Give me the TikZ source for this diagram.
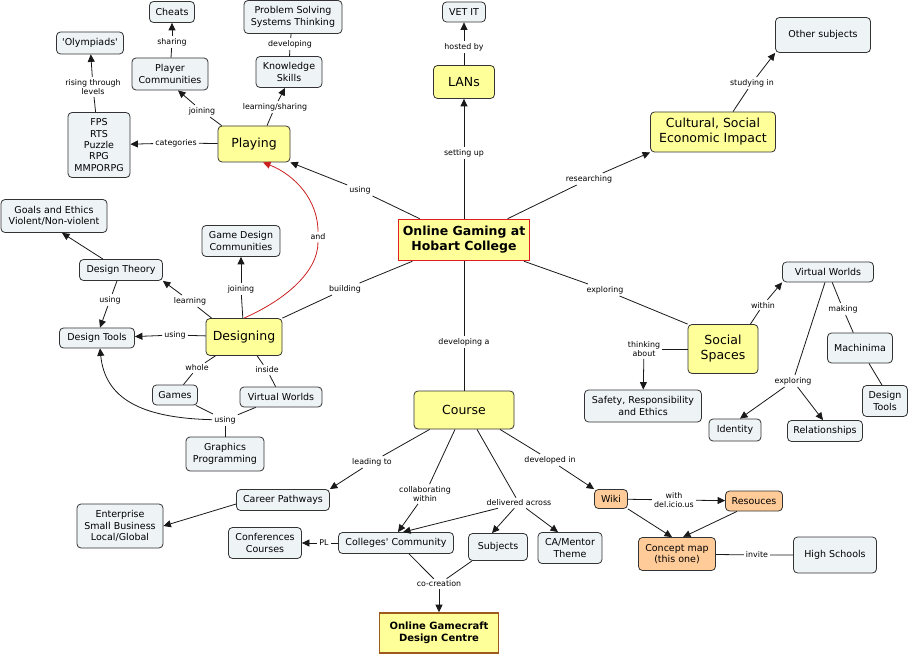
\documentclass[tikz,border=0pt]{standalone}
\usepackage{fontspec}
\setmainfont{DejaVu Sans}
\usetikzlibrary{arrows.meta}
\definecolor{ylw}{HTML}{FFFF99}
\definecolor{gry}{HTML}{EEF3F6}
\definecolor{org}{HTML}{FFCC99}
\definecolor{bord}{HTML}{333333}
\definecolor{redb}{HTML}{E02020}
\definecolor{brnb}{HTML}{9C5A1E}
\definecolor{redl}{HTML}{CC2020}
\tikzset{
 box/.style={draw=bord, line width=0.8pt, rounded corners=4pt, align=center, inner sep=1pt, font=\fontsize{9.5}{11.3}\selectfont},
 gbox/.style={box, fill=gry},
 obox/.style={box, fill=org},
 ybox/.style={box, fill=ylw, font=\fontsize{12.5}{15}\selectfont},
 lab/.style={inner sep=2pt, align=center, font=\fontsize{7.9}{9.3}\selectfont},
 conn/.style={draw=black!90, line width=0.8pt},
 arr/.style={conn, -{Triangle[length=7.5pt,width=7pt]}},
 sz/.style 2 args={minimum width=#1pt, minimum height=#2pt},
}
\begin{document}
\begin{tikzpicture}[x=1pt,y=-1pt]
\fill[white] (0,0) rectangle (911,655);
\useasboundingbox (0,0) rectangle (911,655);
% ---- nodes
\node[ybox, rounded corners=0pt, draw=redb, line width=1.6pt, font=\fontsize{12.5}{15}\selectfont\bfseries, sz={131}{41}] (main) at (464,240) {Online Gaming at\\Hobart College};
\node[ybox, sz={61}{33}] (lans) at (464,82) {LANs};
\node[gbox, sz={43}{20}] (vetit) at (464,12) {VET IT};
\node[ybox, sz={125}{40}] (cultural) at (713,132) {Cultural, Social\\Economic Impact};
\node[gbox, sz={95}{35}] (other) at (823,35) {Other subjects};
\node[ybox, sz={72}{36}] (playing) at (254,144) {Playing};
\node[gbox, sz={62}{65}] (fps) at (99,145) {FPS\\RTS\\Puzzle\\RPG\\MMPORPG};
\node[gbox, sz={67}{22}] (olymp) at (90,43) {\textquotesingle Olympiads\textquotesingle};
\node[gbox, sz={76}{32}] (pc) at (170,74) {Player\\Communities};
\node[gbox, sz={45}{21}] (cheats) at (172,12) {Cheats};
\node[gbox, sz={66}{31}] (ks) at (289,72) {Knowledge\\Skills};
\node[gbox, sz={98}{33}] (ps) at (293,17) {Problem Solving\\Systems Thinking};
\node[gbox, sz={106}{33}] (goals) at (54,216) {Goals and Ethics\\Violent/Non-violent};
\node[gbox, sz={83}{21}] (dtheory) at (121,270) {Design Theory};
\node[gbox, sz={75}{20}] (dtools) at (97,338) {Design Tools};
\node[gbox, sz={78}{31}] (gdc) at (241,241) {Game Design\\Communities};
\node[ybox, sz={76}{37}] (designing) at (244,337) {Designing};
\node[gbox, sz={45}{20}] (games) at (175,395) {Games};
\node[gbox, sz={82}{20}] (vwl) at (281,397) {Virtual Worlds};
\node[gbox, sz={78}{34}] (graphics) at (225,454) {Graphics\\Programming};
\node[gbox, sz={91}{20}] (vwr) at (828,272) {Virtual Worlds};
\node[ybox, sz={70}{49}] (social) at (723,349) {Social\\Spaces};
\node[gbox, sz={65}{30}] (machinima) at (860,348) {Machinima};
\node[gbox, sz={45}{31}] (dtoolsr) at (885,401) {Design\\Tools};
\node[gbox, sz={117}{32}] (safety) at (643,406) {Safety, Responsibility\\and Ethics};
\node[gbox, sz={52}{22}] (identity) at (735,430) {Identity};
\node[gbox, sz={75}{21}] (relations) at (825,431) {Relationships};
\node[ybox, sz={100}{38}] (course) at (464,410) {Course};
\node[gbox, sz={93}{21}] (career) at (283,500) {Career Pathways};
\node[gbox, sz={86}{44}] (enterprise) at (120,526) {Enterprise\\Small Business\\Local/Global};
\node[gbox, sz={73}{31}] (conf) at (265,543) {Conferences\\Courses};
\node[gbox, sz={115}{21}] (colleges) at (396,543) {Colleges\textquotesingle\ Community};
\node[gbox, sz={59}{27}] (subjects) at (498,547) {Subjects};
\node[gbox, sz={64}{31}] (camentor) at (570,548) {CA/Mentor\\Theme};
\node[gbox, sz={83}{36}] (high) at (835,555) {High Schools};
\node[obox, sz={33}{19}] (wiki) at (611,499) {Wiki};
\node[obox, sz={57}{20}] (resouces) at (754,501) {Resouces};
\node[obox, sz={77}{33}] (cmap) at (677,554) {Concept map\\(this one)};
\node[ybox, rounded corners=0pt, draw=brnb, line width=1.6pt, font=\fontsize{10}{12.5}\selectfont\bfseries, sz={119}{40}] (gamecraft) at (439,633) {Online Gamecraft\\Design Centre};
% ---- labels
\node[lab] (l_setting) at (464,153) {setting up};
\node[lab] (l_hosted) at (464,47) {hosted by};
\node[lab] (l_research) at (589,179) {researching};
\node[lab] (l_studying) at (752,83) {studying in};
\node[lab] (l_using1) at (360,190) {using};
\node[lab] (l_and) at (318,237) {and};
\node[lab] (l_building) at (345,289) {building};
\node[lab] (l_exploring1) at (605,290) {exploring};
\node[lab] (l_developing) at (464,342) {developing a};
\node[lab] (l_categories) at (176,143) {categories};
\node[lab] (l_joining1) at (202,111) {joining};
\node[lab] (l_learnshare) at (275,107) {learning/sharing};
\node[lab] (l_developing2) at (290,44) {developing};
\node[lab] (l_sharing) at (172,42) {sharing};
\node[lab] (l_rising) at (93,87) {rising through\\levels};
\node[lab] (l_learning) at (190,301) {learning};
\node[lab] (l_joining2) at (241,289) {joining};
\node[lab] (l_using2) at (175,335) {using};
\node[lab] (l_using3) at (110,300) {using};
\node[lab] (l_whole) at (197,368) {whole};
\node[lab] (l_inside) at (267,370) {inside};
\node[lab] (l_using4) at (225,420) {using};
\node[lab] (l_within) at (763,305) {within};
\node[lab] (l_thinking) at (644,349) {thinking\\about};
\node[lab] (l_making) at (843,309) {making};
\node[lab] (l_exploring2) at (793,381) {exploring};
\node[lab] (l_leading) at (372,462) {leading to};
\node[lab] (l_collab) at (425,494) {collaborating\\within};
\node[lab] (l_delivered) at (519,503) {delivered across};
\node[lab] (l_devin) at (550,460) {developed in};
\node[lab] (l_with) at (674,500) {with\\del.icio.us};
\node[lab] (l_invite) at (757,555) {invite};
\node[lab] (l_pl) at (324,543) {PL};
\node[lab] (l_cocreation) at (439,584) {co-creation};
% ---- connectors: main
\draw[conn] (main) -- (l_setting); \draw[arr] (l_setting) -- (lans);
\draw[conn] (lans) -- (l_hosted); \draw[arr] (l_hosted) -- (vetit);
\draw[conn] (main) -- (l_research); \draw[arr] (l_research) -- (cultural.south west);
\draw[conn] ([xshift=20pt]cultural.north) -- (l_studying); \draw[arr] (l_studying) -- (other.south west);
\draw[conn] (main) -- (l_using1); \draw[arr] (l_using1) -- (playing.south east);
\draw[conn] (main) -- (l_building); \draw[conn] (l_building) -- (designing.north east);
\draw[conn] (main) -- (l_exploring1); \draw[conn] (l_exploring1) -- (social.north west);
\draw[conn] (main) -- (l_developing); \draw[conn] (l_developing) -- (course);
% playing
\draw[conn] (playing) -- (l_categories); \draw[arr] (l_categories) -- (fps);
\draw[conn] ([xshift=4pt]playing.north west) -- (l_joining1); \draw[arr] (l_joining1) -- ([xshift=8pt]pc.south);
\draw[conn] ([xshift=13pt]playing.north) -- (l_learnshare); \draw[arr] (l_learnshare) -- ([xshift=-4pt]ks.south);
\draw[conn] (ks) -- (l_developing2); \draw[conn] (l_developing2) -- (ps);
\draw[conn] (pc) -- (l_sharing); \draw[arr] (l_sharing) -- (cheats);
\draw[conn] (fps) -- (l_rising); \draw[arr] (l_rising) -- (olymp);
% red curve
\draw[conn, draw=redl] (designing.north) .. controls (285,300) and (318,272) .. (l_and);
\draw[arr, draw=redl] (l_and) .. controls (318,200) and (295,175) .. ([xshift=9pt]playing.south);
% designing
\draw[conn] (designing) -- (l_joining2); \draw[arr] (l_joining2) -- (gdc);
\draw[conn] ([xshift=6pt]designing.north west) -- (l_learning); \draw[arr] (l_learning) -- (dtheory.south east);
\draw[conn] (designing) -- (l_using2); \draw[arr] (l_using2) -- (dtools);
\draw[arr] ([xshift=-18pt]dtheory.north) -- ([xshift=8pt]goals.south);
\draw[conn] ([xshift=-4pt]dtheory.south) -- (l_using3); \draw[arr] (l_using3) -- ([xshift=3pt]dtools.north);
\draw[conn] (designing) -- (l_whole); \draw[conn] (l_whole) -- (games);
\draw[conn] (designing) -- (l_inside); \draw[conn] (l_inside) -- (vwl);
\draw[conn] (games) -- (l_using4);
\draw[conn] (vwl) -- (l_using4);
\draw[conn] (l_using4) -- (graphics);
\draw[arr] (l_using4) .. controls (140,418) and (105,398) .. ([xshift=3pt]dtools.south);
% social
\draw[conn] ([xshift=-8pt]social.north east) -- (l_within); \draw[arr] (l_within) -- (vwr.south west);
\draw[conn] (social) -- (l_thinking); \draw[arr] (l_thinking) -- (safety);
\draw[conn] (vwr) -- (l_making); \draw[conn] (l_making) -- (machinima);
\draw[conn] ([xshift=9pt]machinima.south) -- ([xshift=-3pt]dtoolsr.north);
\draw[conn] ([xshift=-3pt]vwr.south) -- (l_exploring2);
\draw[arr] (l_exploring2) -- ([xshift=5pt]identity.north);
\draw[arr] (l_exploring2) -- ([xshift=-2pt]relations.north);
% course
\draw[conn] (course) -- (l_leading); \draw[arr] (l_leading) -- (career.north east);
\draw[conn] ([xshift=-9pt]course.south) -- (l_collab); \draw[arr] (l_collab) -- ([xshift=2pt]colleges.north);
\draw[conn] ([xshift=13pt]course.south) -- (l_delivered);
\draw[arr] (l_delivered) -- ([xshift=7pt]colleges.north);
\draw[arr] (l_delivered) -- ([xshift=-6pt]subjects.north);
\draw[arr] (l_delivered) -- ([xshift=-12pt]camentor.north);
\draw[conn] ([xshift=36pt]course.south) -- (l_devin); \draw[arr] (l_devin) -- (wiki.north west);
\draw[arr] ([yshift=-4pt]career.west) -- (enterprise.east);
\draw[conn] (colleges) -- (l_pl); \draw[arr] (l_pl) -- (conf);
\draw[conn] ([xshift=13pt]colleges.south) -- (l_cocreation);
\draw[conn] ([xshift=-26pt]subjects.south) -- (l_cocreation);
\draw[arr] (l_cocreation) -- (gamecraft);
\draw[conn] (wiki) -- (l_with); \draw[arr] (l_with) -- (resouces);
\draw[arr] (wiki.south east) -- ([xshift=-5pt]cmap.north);
\draw[arr] ([xshift=-17pt]resouces.south) -- ([xshift=6pt]cmap.north);
\draw[conn] (cmap) -- (l_invite) -- (high);
\end{tikzpicture}
\end{document}
